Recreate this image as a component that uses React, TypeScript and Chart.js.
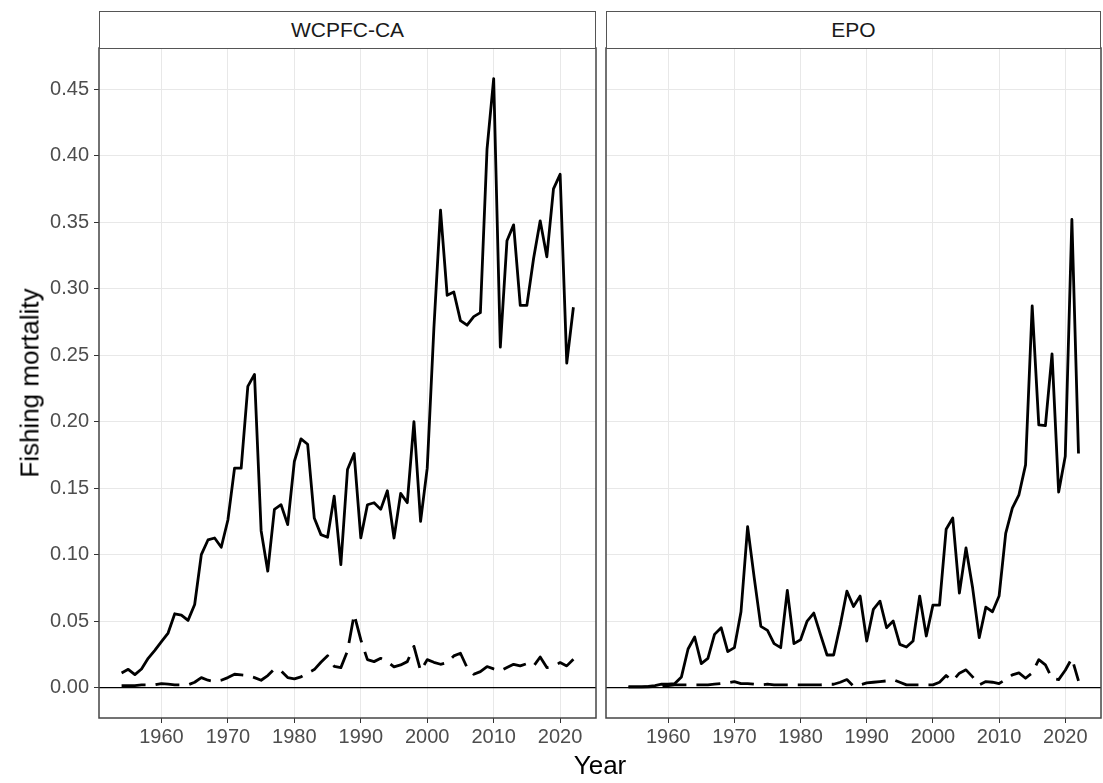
import React, { useEffect, useRef } from "react";
import { Chart, registerables } from "chart.js";

Chart.register(...registerables);

// ---------------- data ----------------
const YEARS = [
  1954, 1955, 1956, 1957, 1958, 1959, 1960, 1961, 1962, 1963,
  1964, 1965, 1966, 1967, 1968, 1969, 1970, 1971, 1972, 1973,
  1974, 1975, 1976, 1977, 1978, 1979, 1980, 1981, 1982, 1983,
  1984, 1985, 1986, 1987, 1988, 1989, 1990, 1991, 1992, 1993,
  1994, 1995, 1996, 1997, 1998, 1999, 2000, 2001, 2002, 2003,
  2004, 2005, 2006, 2007, 2008, 2009, 2010, 2011, 2012, 2013,
  2014, 2015, 2016, 2017, 2018, 2019, 2020, 2021, 2022,
];

const WCPFC_SOLID = [
  0.011, 0.0137, 0.0097, 0.014, 0.022, 0.028, 0.0345, 0.041, 0.0555, 0.0545,
  0.0505, 0.0625, 0.1, 0.111, 0.1125, 0.1055, 0.126, 0.165, 0.165, 0.2265,
  0.2355, 0.118, 0.0875, 0.134, 0.1375, 0.1225, 0.17, 0.187, 0.183, 0.1275,
  0.115, 0.113, 0.144, 0.0925, 0.164, 0.176, 0.1125, 0.1375, 0.139, 0.134,
  0.148, 0.1125, 0.146, 0.139, 0.2, 0.125, 0.165, 0.27, 0.359, 0.295,
  0.2975, 0.276, 0.2725, 0.279, 0.282, 0.405, 0.458, 0.256, 0.336, 0.348,
  0.2875, 0.2875, 0.3225, 0.351, 0.324, 0.375, 0.386, 0.244, 0.286,
];

const WCPFC_DASHED = [
  0.0015, 0.0015, 0.0015, 0.002, 0.002, 0.002, 0.003, 0.0025, 0.002, 0.002,
  0.002, 0.004, 0.0075, 0.0055, 0.0045, 0.0055, 0.0075, 0.01, 0.0095, 0.009,
  0.0075, 0.0055, 0.009, 0.014, 0.0125, 0.0075, 0.0065, 0.008, 0.011, 0.0135,
  0.019, 0.024, 0.016, 0.015, 0.0275, 0.055, 0.036, 0.021, 0.0195, 0.022,
  0.0195, 0.0155, 0.017, 0.0195, 0.031, 0.0125, 0.021, 0.019, 0.0175, 0.0188,
  0.0238, 0.0258, 0.015, 0.01, 0.012, 0.0158, 0.014, 0.0125, 0.015, 0.0175,
  0.0163, 0.018, 0.016, 0.023, 0.015, 0.016, 0.0188, 0.0163, 0.0213,
];

const EPO_SOLID = [
  0.0005, 0.0005, 0.0005, 0.0008, 0.0015, 0.0025, 0.0025, 0.003, 0.008, 0.029,
  0.038, 0.018, 0.022, 0.04, 0.045, 0.027, 0.03, 0.057, 0.121, 0.0825,
  0.046, 0.043, 0.033, 0.03, 0.073, 0.033, 0.036, 0.05, 0.056, 0.04,
  0.0245, 0.0245, 0.047, 0.0725, 0.061, 0.0688, 0.035, 0.0588, 0.065, 0.045,
  0.05, 0.0325, 0.0305, 0.035, 0.0688, 0.0388, 0.062, 0.062, 0.119, 0.1275,
  0.071, 0.105, 0.075, 0.0375, 0.0605, 0.057, 0.0688, 0.116, 0.135, 0.145,
  0.1675, 0.287, 0.1975, 0.197, 0.251, 0.147, 0.174, 0.352, 0.176,
];

const EPO_DASHED = [
  0.0005, 0.0005, 0.0005, 0.0005, 0.0008, 0.001, 0.0015, 0.002, 0.002, 0.002,
  0.002, 0.002, 0.002, 0.0025, 0.003, 0.0035, 0.0045, 0.003, 0.003, 0.0025,
  0.002, 0.0025, 0.002, 0.002, 0.002, 0.002, 0.002, 0.002, 0.002, 0.002,
  0.0025, 0.0025, 0.004, 0.006, 0.001, 0.002, 0.0035, 0.004, 0.0045, 0.005,
  0.006, 0.004, 0.002, 0.002, 0.002, 0.002, 0.002, 0.004, 0.009, 0.005,
  0.0108, 0.0133, 0.008, 0.002, 0.0045, 0.004, 0.003, 0.006, 0.0095, 0.011,
  0.007, 0.011, 0.021, 0.017, 0.007, 0.006, 0.013, 0.022, 0.005,
];

const PANEL_TITLES = ["WCPFC-CA", "EPO"];
const X_TITLE = "Year";
const Y_TITLE = "Fishing mortality";
const X_MIN = 1950.6;
const X_MAX = 2025.4;
const Y_MIN = -0.0229;
const Y_MAX = 0.481;
const X_STEP = 10;
const Y_STEP = 0.05;
const HLINE_Y = 0;

// ---------------- styling ----------------
const FONT = "'Liberation Sans', Arial, Helvetica, sans-serif";
const TICK_FONT_SIZE = 20;
const TITLE_FONT_SIZE = 26;
const STRIP_FONT_SIZE = 21;
const PLOT_TOP = 48;
const PLOT_BOTTOM = 718;
const PAGE_W = 1103;
const PAGE_H = 783;

const borderPlugin = {
  id: "panelBorder",
  afterDraw(chart: any) {
    const { ctx, chartArea } = chart;
    ctx.save();
    ctx.strokeStyle = "#444";
    ctx.lineWidth = 1.5;
    ctx.strokeRect(
      chartArea.left,
      chartArea.top,
      chartArea.right - chartArea.left,
      chartArea.bottom - chartArea.top
    );
    ctx.restore();
  },
};

type PanelProps = {
  solid: number[];
  dashed: number[];
  showY: boolean;
  left: number;
  width: number;
  yAxisWidth: number;
  padRight: number;
};

function Panel({ solid, dashed, showY, left, width, yAxisWidth, padRight }: PanelProps) {
  const ref = useRef<HTMLCanvasElement | null>(null);

  useEffect(() => {
    if (!ref.current) return;
    const pts = (arr: number[]) => YEARS.map((yr, i) => ({ x: yr, y: arr[i] }));
    const chart = new Chart(ref.current, {
      type: "line",
      data: {
        datasets: [
          {
            data: [
              { x: X_MIN, y: HLINE_Y },
              { x: X_MAX, y: HLINE_Y },
            ],
            borderColor: "#000",
            borderWidth: 1.3,
            pointRadius: 0,
          },
          {
            data: pts(solid),
            borderColor: "#000",
            borderWidth: 2.8,
            pointRadius: 0,
            tension: 0,
            borderJoinStyle: "round",
          },
          {
            data: pts(dashed),
            borderColor: "#000",
            borderWidth: 2.8,
            pointRadius: 0,
            tension: 0,
            borderDash: [24, 10],
            borderJoinStyle: "round",
          },
        ],
      } as any,
      options: {
        responsive: false,
        animation: false,
        events: [],
        layout: { padding: { top: PLOT_TOP, right: padRight, left: 0, bottom: 0 } },
        plugins: {
          legend: { display: false },
          tooltip: { enabled: false },
        },
        scales: {
          x: {
            type: "linear",
            min: X_MIN,
            max: X_MAX,
            grid: {
              color: "#e8e8e8",
              lineWidth: 1,
              tickColor: "#333",
              tickLength: 5,
            },
            border: { display: false },
            ticks: {
              stepSize: X_STEP,
              includeBounds: false,
              autoSkip: false,
              maxRotation: 0,
              padding: 2,
              color: "#4d4d4d",
              font: { family: FONT, size: TICK_FONT_SIZE },
              callback: (v: any) => String(v),
            },
            afterFit: (s: any) => {
              s.height = PAGE_H - PLOT_BOTTOM;
              s.paddingLeft = 0;
              s.paddingRight = 0;
            },
          },
          y: {
            type: "linear",
            min: Y_MIN,
            max: Y_MAX,
            grid: {
              color: "#e8e8e8",
              lineWidth: 1,
              tickColor: "#333",
              tickLength: 5,
              drawTicks: showY,
            },
            border: { display: false },
            ticks: {
              display: showY,
              stepSize: Y_STEP,
              includeBounds: false,
              padding: 5,
              color: "#4d4d4d",
              font: { family: FONT, size: TICK_FONT_SIZE },
              callback: (v: any) => Number(v).toFixed(2),
            },
            afterFit: (s: any) => {
              s.width = yAxisWidth;
              s.paddingTop = 0;
              s.paddingBottom = 0;
            },
          },
        },
      } as any,
      plugins: [borderPlugin],
    });
    return () => chart.destroy();
  }, []);

  return (
    <canvas
      ref={ref}
      width={width}
      height={PAGE_H}
      style={{ position: "absolute", left, top: 0, width, height: PAGE_H }}
    />
  );
}

function Strip({ left, width, text }: { left: number; width: number; text: string }) {
  return (
    <div
      style={{
        position: "absolute",
        left,
        top: 11,
        width,
        height: PLOT_TOP - 11 + 1,
        boxSizing: "border-box",
        border: "1.4px solid #555",
        background: "#fff",
        display: "flex",
        alignItems: "center",
        justifyContent: "center",
        fontFamily: FONT,
        fontSize: STRIP_FONT_SIZE,
        color: "#1a1a1a",
      }}
    >
      {text}
    </div>
  );
}

export default function App() {
  return (
    <div
      style={{
        position: "fixed",
        left: 0,
        top: 0,
        width: PAGE_W,
        height: PAGE_H,
        background: "#fff",
        overflow: "hidden",
      }}
    >
      <Panel
        solid={WCPFC_SOLID}
        dashed={WCPFC_DASHED}
        showY={true}
        left={0}
        width={600}
        yAxisWidth={99}
        padRight={4}
      />
      <Panel
        solid={EPO_SOLID}
        dashed={EPO_DASHED}
        showY={false}
        left={600}
        width={503}
        yAxisWidth={6}
        padRight={2}
      />
      <Strip left={99} width={497} text={PANEL_TITLES[0]} />
      <Strip left={606} width={495} text={PANEL_TITLES[1]} />
      <div
        style={{
          position: "absolute",
          left: 30,
          top: 383,
          transform: "translate(-50%, -50%) rotate(-90deg)",
          whiteSpace: "nowrap",
          fontFamily: FONT,
          fontSize: TITLE_FONT_SIZE,
          color: "#000",
        }}
      >
        {Y_TITLE}
      </div>
      <div
        style={{
          position: "absolute",
          left: 600,
          top: 765,
          transform: "translate(-50%, -50%)",
          whiteSpace: "nowrap",
          fontFamily: FONT,
          fontSize: TITLE_FONT_SIZE,
          color: "#000",
        }}
      >
        {X_TITLE}
      </div>
    </div>
  );
}
